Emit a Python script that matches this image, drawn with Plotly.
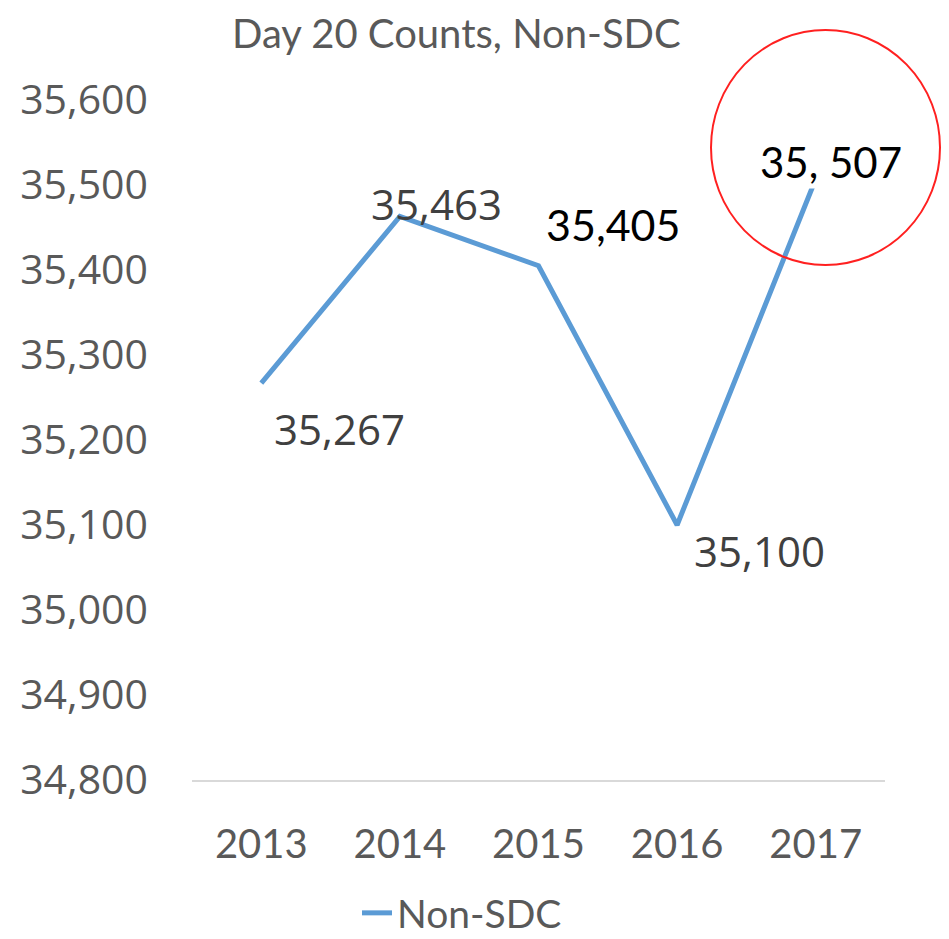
import plotly.graph_objects as go

years = ["2013", "2014", "2015", "2016", "2017"]
counts = [35267, 35463, 35405, 35100, 35507]
label_texts = ["35,267", "35,463", "35,405", "35,100", "35, 507"]
y_ticks = [34800, 34900, 35000, 35100, 35200, 35300, 35400, 35500, 35600]

OFF = 8  # page body margin offset
W, H = 949 - OFF, 939 - OFF
# target plot area in screen pixels: x 192..885, y 100..780
ML = 192 - OFF
MT = 100 - OFF
PW, PH = 693, 680
MR = W - ML - PW
MB = H - MT - PH

fig = go.Figure()
fig.add_trace(go.Scatter(
    x=years, y=counts, mode="lines", name="Non-SDC",
    line=dict(color="#5B9BD5", width=5), cliponaxis=False,
))

# label styling: (xshift, yshift, font family, color, size, bg)
label_style = [
    (78, -45, "Open Sans", "#404040", 42, None),
    (37, 13, "Open Sans", "#404040", 42, None),
    (74, 41, "Lato", "#000000", 43, None),
    (82, -25, "Open Sans", "#404040", 42, None),
    (15, 17, "Lato", "#000000", 42, "white"),
]
for i, (v, t, (dx, dy, fam, col, sz, bg)) in enumerate(zip(counts, label_texts, label_style)):
    fig.add_annotation(
        x=i, y=v, xref="x", yref="y", text=t, showarrow=False,
        xshift=dx, yshift=dy, font=dict(family=fam, color=col, size=sz),
        bgcolor=bg if bg else "rgba(0,0,0,0)",
    )

# red highlight circle (paper coords from screen pixel geometry)
def px(xs):
    return (xs - OFF - ML) / PW
def py(ys):
    return (MT + PH - (ys - OFF)) / PH
fig.add_shape(type="circle", xref="paper", yref="paper",
              x0=px(711), x1=px(940), y0=py(265), y1=py(30),
              line=dict(color="#FF2020", width=2), layer="above")

fig.add_annotation(
    text="Day 20 Counts, Non-SDC", xref="paper", yref="paper",
    x=px(456), y=py(33), xanchor="center", yanchor="middle", showarrow=False,
    font=dict(family="Lato", size=40, color="#595959"),
)

fig.update_layout(
    width=W, height=H,
    margin=dict(l=ML, r=MR, t=MT, b=MB, autoexpand=False),
    paper_bgcolor="white", plot_bgcolor="white",
    showlegend=True,
    legend=dict(orientation="h", x=px(462), xanchor="center", y=py(913), yanchor="middle",
                font=dict(family="Lato", size=39, color="#595959"),
                bgcolor="rgba(0,0,0,0)"),
    xaxis=dict(type="category", range=[-0.5, 4.5], showgrid=False, showline=True,
               linecolor="#D9D9D9", linewidth=2, ticks="", ticklabelstandoff=28,
               automargin=False,
               tickfont=dict(family="Lato", size=40, color="#595959"), zeroline=False),
    yaxis=dict(range=[34800, 35600], tickvals=y_ticks, tickformat=",", showgrid=False,
               showline=False, zeroline=False, ticks="", ticklabelstandoff=43,
               automargin=False,
               tickfont=dict(family="Open Sans", size=41, color="#595959")),
)

fig.write_html("out.html")
